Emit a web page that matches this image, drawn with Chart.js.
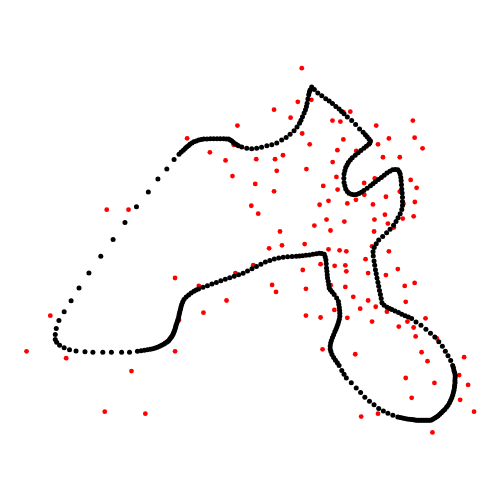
<!DOCTYPE html>
<html>
<head>
<meta charset="utf-8">
<script src="https://cdn.jsdelivr.net/npm/chart.js@4/dist/chart.umd.min.js"></script>
<style>
html,body{margin:0;padding:0;background:#fff;}
#wrap{width:500px;height:500px;}
</style>
</head>
<body>
<div id="wrap"><canvas id="c" width="500" height="500"></canvas></div>
<script>
const outlineX = [
178.3,180.5,182.7,184.5,186,187.8,189.3,191.3,193.3,195.8,198.3,200.8,203.3,206.5,210,213.3,216.7,220,223.3,226,228.3,230,231.7,233.3,235,236.7,238.3,241.7,246.7,251.7,256.7,261.7,267,272,277,282,286.5,290.5,294.5,297.5,300,301.5,303,304.7,306,307,307.7,308.5,309.3,310,310.7,312.3,
315,318.5,322.5,326.5,330,333.3,336.7,340,342.5,345,348.3,352.7,356.7,360.7,364.3,366.5,368.3,370.2,371.7,371,370,367.5,365,362,359.3,356.3,353.3,351.3,349.3,348,346.7,345.8,345,344.8,345,345.8,346.7,348.3,350,352.5,355,357.5,360,362.5,365,368.3,371.7,374.2,376.7,379.7,382.7,385.5,388.3,391.2,394,396.7,399.3,400.8,401.7,402.3,402.7,403,403.3,403.7,404,404,404,403.3,401.7,399.5,397.5,395,391.5,388,384,380,377.5,375.5,374.3,374.5,375.3,376,376.7,377.5,378.3,379.2,380,380.8,381.7,382.5,383.3,385.5,388.5,391,393.3,396.5,400,403.3,406.7,410,413.3,
417.7,422.7,427.7,432.3,436.7,440.7,444.3,447.3,450,452.7,454.7,455.5,456,456.7,457.3,457.2,457,457.1,456.7,456.5,456,455.4,454.7,453.8,452.7,451.5,450,448.5,446.7,445,443.3,441.7,440,438.3,436.7,435,433.3,431.7,430,428.3,426.7,425,423.3,421.7,420,418.3,416.7,415,413.3,411,408.7,406.3,404,401.7,399.3,394.3,389.3,384.7,380,375.3,370.7,366,361.7,357.3,352.3,347.3,345,342.7,340,
338.2,336.3,334.5,332.8,331.7,331,331,331.5,332.2,333.3,334.5,335.7,336.8,337.8,338.7,339.5,340.2,340.7,340.7,340.5,340.2,339.7,339.3,337.5,335,333,331.3,330,329.5,329,328.3,328,327.7,327.3,327,326.7,326,325,322.5,320,317,313.5,310,306.5,303,300,296.7,292.5,288,283.5,279,274.5,270,265.5,261,256.5,252,247.5,243,238.5,234,229.5,225,220.5,216,211.5,207,202.5,198,195.5,193.3,190.5,188,185.5,183.3,182,181,180.3,179.7,179,178.5,178,177.3,176.7,176,175.3,174.8,174.3,173.7,173,172.5,171.7,170.8,170,169,168,166.8,165.7,164.2,162.7,160.7,158.7,156.5,154.3,151.8,149.3,146.3,143.3,140,136.3,128.3,120.3,110,101.3,91.3,83.3,74.3,67.7,62.3,57.7,54.7,53.3,53.3,54.3,57,
62.3,69.3,77.3,87.3,99.3,111.7,123.7,135.3,147.3,157,166,173.3
];
const outlineY = [
153.3,151,149.3,147.5,146,144.6,143.3,142,140.7,139.8,139,138.5,138,137.8,137.7,137.7,137.7,137.7,137.7,137.8,138,138.8,140,141.3,142.7,143.8,144.7,146,147.3,147.7,147.3,146.3,144.8,143.6,142,139,136.3,133.2,129.5,125.7,122,119,115.5,111.7,108.3,105,101.7,97.5,93.3,90.5,88.3,85.3,
88,91.3,94.3,97.3,99.5,102,105,107.7,110,112.3,115.7,119.3,123.3,127.7,131,133.5,135.7,137.8,140,142,143.3,145.3,147.3,149.5,151.7,154.2,156.7,159.2,161.7,164.2,166.7,170,173.3,177.5,181.7,185,188.3,190.8,192.7,193.8,194.3,193.9,193,191.6,190,187.5,185,183,181,178.8,176.7,174.5,172.3,170.5,169,168.8,169,171,173.3,176.7,180,184,188.3,192.5,196.7,201,205,209,213.3,217.5,221.3,225,229,232.5,236.3,240,243.7,247.5,251.7,256,261,265.5,270,274,278.3,282.5,286.7,291,295,299,303.3,305.8,307.8,309,310,311.5,313.2,314.8,316.3,317.8,319.3,
322.7,326,330,334,338,342.7,347.3,352.3,356.7,361.7,366.7,369,371.7,374,376.7,379,381.7,384,386.7,389,391.7,394.2,396.7,399.2,401.7,404.2,406.7,408.9,411,412.7,414.3,415.9,417.3,418.6,419.7,420.8,421.7,421.9,422,422,422,422,422,422,422,421.9,421.7,421.5,421.3,421,420.7,420.2,419.7,419.2,418.7,417,415,412.7,410,406.3,402.7,398.7,394,389.3,384,379.3,375.5,371.7,366.7,
364,361.3,358.5,355.5,352.5,350,347,344,341.5,338.5,335.5,332.5,330,327.5,325,322.5,320,317,314,311,308,305,302,298.5,295,292.3,290.3,288.3,285,281.5,278.3,275,271.5,268.3,264,260,257,254.3,253.5,253.3,253.8,254.4,255,255.3,255.7,256,256.3,256.6,256.9,257.3,258,259,260.5,262.2,264.3,266.6,269,271.2,273.4,275,276.5,278,279.5,281,282.8,284.4,286.1,287.5,289.3,290.5,291.7,293.5,295.5,297.5,300,302.5,305,307.5,310,312.5,315,317.5,320,322,324,326,328,329.7,331.5,333,334.5,336,337.5,338.7,340,341.3,342.3,343.3,344.3,345.3,346.3,347.3,348.2,349,349.7,350.3,350.8,351.3,351.8,352.3,353.3,353.3,353.3,353.3,353.3,352.7,352,350.7,348.7,346.3,343.3,340.3,335.3,329.3,321.3,
312.3,301.3,288.3,273.3,256.3,239.3,222.3,206.3,191.3,178.3,168.3,158.7
];
// Scatter series
const scatterX = [302.3,298.3,312,274.3,291,237.3,186.5,302.7,209.5,310.3,233.5,225.3,256.3,275.3,283.3,277,232.3,307,255.3,274.3,333.3,338.3,333.5,337.3,324,338.5,
344.3,351.3,341.3,377.5,414.5,344.3,390.3,416.3,379.3,357.3,424.3,384.3,401.3,365.3,376,412.3,418.3,401.3,365.5,357,387.3,348.3,374.2,416.5,405,
386.3,415.3,404.3,375.7,389.3,345.3,395.3,375.3,373.3,340.5,347.3,390.3,366.7,346.3,347.3,369.3,399.3,387.3,416.3,406.3,346.3,354.3,369.3,407.3,377,361.3,388.3,348.3,427.3,
251.3,258.3,320.3,329.3,315,327.3,331.3,280.3,282.3,305.2,269.3,329.3,253.3,235.3,303.3,321.3,335.5,272.3,276.3,306.5,331.5,198.3,226.3,203,306.5,321.3,335.2,
105.3,127.3,174.3,48.3,24.3,64.3,130.3,174.3,103.3,144.3,178.3,323.3,
373.3,400.3,409,415.3,438.7,417.3,356.3,423.3,429.3,466.3,407.3,436.3,461.3,470.3,413.3,462.3,476.3,362.3,379.3,434.3];
const scatterY = [66.3,100.3,98.3,108.3,116.3,124.3,137.2,132.3,151.3,143.3,143.8,159.5,158.3,158.3,154.3,170,175.3,168.3,183.3,190.7,119.3,149.2,161.2,176.2,185.3,189,
110.7,110.3,120.3,124.3,119.3,138.3,137.3,136.5,143.3,150,147.3,156.3,156.3,182.3,177.8,179.2,187.2,191,194.3,199.3,196.2,203,204,201.5,203.3,
214.3,216,218.3,219.3,223.3,221.3,227.3,231.3,246.3,250.3,251.3,251.3,259.3,265.5,271.5,273.3,269.3,275.3,283.3,286.3,287.3,297.3,301,302.3,307.3,309.3,312.3,318.5,319,
205.3,213.3,204.3,200.3,225.3,219.3,230.3,231.3,245.3,244,248.3,249.3,265.3,273.3,270.2,264.3,266,285.3,292.3,289.2,285.5,286.3,301,313.3,316.2,318.2,310.5,
209.3,209.3,278.3,316.3,352.3,359.3,372.3,352.3,413.3,415.3,320.7,350.3,
322.3,327.3,322.3,328.3,339.3,337.3,355.3,353.3,362.3,358.3,379.3,384.3,376.3,386.3,399.3,401.3,413.3,418.3,415.3,434.3];

const outline = outlineX.map((x, i) => ({x: x, y: outlineY[i]}));
const scatter = scatterX.map((x, i) => ({x: x, y: scatterY[i]}));

new Chart(document.getElementById('c'), {
  type: 'scatter',
  data: {
    datasets: [
      {data: outline, backgroundColor: '#000000', borderWidth: 0, pointRadius: 2.5, pointHoverRadius: 2.5},
      {data: scatter, backgroundColor: '#ff0000', borderWidth: 0, pointRadius: 2.4, pointHoverRadius: 2.4}
    ]
  },
  options: {
    responsive: false,
    animation: false,
    layout: {padding: 0},
    plugins: {legend: {display: false}, tooltip: {enabled: false}},
    scales: {
      x: {type: 'linear', min: 0, max: 500, display: false},
      y: {type: 'linear', min: 0, max: 500, reverse: true, display: false}
    }
  }
});
</script>
</body>
</html>
